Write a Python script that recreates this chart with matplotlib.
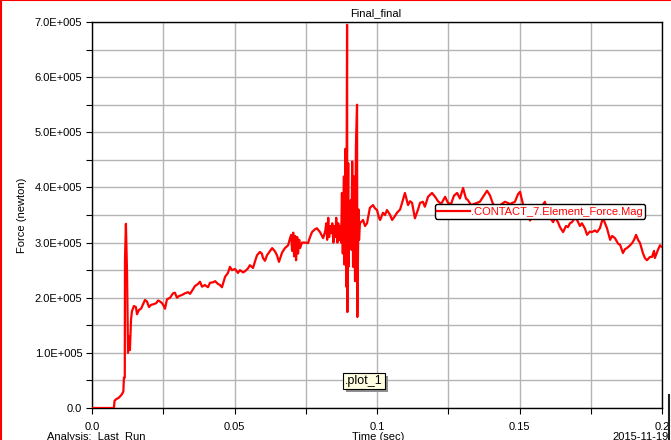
import numpy as np
import matplotlib
matplotlib.use("Agg")
import matplotlib.pyplot as plt
import matplotlib.patheffects as pe
from matplotlib.lines import Line2D

plt.rcParams['font.family'] = ['Liberation Sans', 'DejaVu Sans']

# Time (sec) and force (x 1e5 newton)
time = [
    0.0, 0.0077, 0.0079, 0.0085, 0.0095, 0.0105, 0.0110, 0.0112, 0.0115,
    0.01158, 0.0119, 0.0123, 0.01263, 0.0130, 0.0133, 0.0137, 0.0140, 0.0147,
    0.0154, 0.0158, 0.0165, 0.0172, 0.0179, 0.0186, 0.0193, 0.0200, 0.0207,
    0.0214, 0.0225, 0.0232, 0.0239, 0.0246, 0.0253, 0.0256, 0.0263, 0.0274,
    0.0284, 0.0291, 0.0298, 0.0305, 0.0316, 0.0326, 0.0337, 0.0344, 0.0354,
    0.0361, 0.0372, 0.0379, 0.0386, 0.0396, 0.0407, 0.0414, 0.0425, 0.0432,
    0.0442, 0.0449, 0.0456, 0.0467, 0.0477, 0.0484, 0.0491, 0.0502, 0.0512,
    0.0519, 0.0530, 0.0537, 0.0547, 0.0554, 0.0565, 0.0572, 0.0579, 0.0589,
    0.0596, 0.0600, 0.0607, 0.0614, 0.0625, 0.0632, 0.0642, 0.0649, 0.0656,
    0.0667, 0.0677, 0.0688, 0.0695,
    0.0699, 0.0702, 0.0706, 0.0709, 0.0713, 0.0716, 0.0720, 0.0723, 0.0727,
    0.0730, 0.0737,
    0.0747, 0.0758, 0.0765, 0.0772, 0.0782, 0.0789, 0.0800, 0.0811, 0.0818,
    0.0822, 0.0825, 0.0829, 0.0832, 0.0836, 0.0840, 0.0843, 0.0847, 0.0850,
    0.0854, 0.0857, 0.0861, 0.0864, 0.0868, 0.0870, 0.0874, 0.0877, 0.0880,
    0.0884, 0.0886, 0.0889, 0.0892, 0.0895, 0.0896, 0.0899, 0.0900, 0.0903,
    0.0905, 0.0908, 0.0910, 0.0913, 0.0916, 0.0919, 0.0923, 0.0926, 0.0930,
    0.0931, 0.0935, 0.0937, 0.0940,
    0.0951, 0.0958, 0.0965, 0.0975, 0.0986, 0.0993, 0.1000, 0.1007, 0.1011,
    0.1021, 0.1028, 0.1035, 0.1046, 0.1053, 0.1063, 0.1070, 0.1081, 0.1088,
    0.1098, 0.1109, 0.1116, 0.1123, 0.1133, 0.1144, 0.1151, 0.1161, 0.1168,
    0.1179, 0.1193, 0.1204, 0.1214, 0.1225, 0.1239, 0.1249, 0.1260, 0.1270,
    0.1281, 0.1291, 0.1302, 0.1312, 0.1319, 0.1330, 0.1340, 0.1351, 0.1361,
    0.1375, 0.1386, 0.1396, 0.1407, 0.1421, 0.1432, 0.1449, 0.1467, 0.1484,
    0.1495, 0.1502, 0.1512, 0.1523, 0.1537, 0.1554, 0.1572, 0.1589, 0.1600,
    0.1607, 0.1618, 0.1625, 0.1635, 0.1642, 0.1653, 0.1663, 0.1670, 0.1677,
    0.1684, 0.1695, 0.1702, 0.1712, 0.1719, 0.1730, 0.1737, 0.1747, 0.1754,
    0.1765, 0.1772, 0.1782, 0.1793, 0.1800, 0.1807, 0.1818, 0.1825, 0.1835,
    0.1846, 0.1853, 0.1863, 0.1870, 0.1877, 0.1888, 0.1895, 0.1902, 0.1909,
    0.1916, 0.1923, 0.1933, 0.1940, 0.1947, 0.1958, 0.1965, 0.1972, 0.1975,
    0.1986, 0.1993, 0.2000,
]
force = [
    0.0, 0.0, 0.13, 0.16, 0.19, 0.25, 0.30, 0.55, 0.55,
    2.70, 3.34, 2.45, 1.00, 1.30, 1.05, 1.60, 1.75, 1.85,
    1.83, 1.70, 1.78, 1.80, 1.88, 1.96, 1.93, 1.83, 1.87,
    1.88, 1.90, 1.95, 1.93, 1.90, 1.84, 1.80, 1.97, 2.00,
    2.08, 2.09, 2.00, 2.03, 2.05, 2.08, 2.10, 2.07, 2.15,
    2.21, 2.25, 2.29, 2.20, 2.23, 2.19, 2.27, 2.28, 2.30,
    2.25, 2.23, 2.19, 2.38, 2.45, 2.56, 2.50, 2.52, 2.45,
    2.50, 2.46, 2.48, 2.53, 2.59, 2.54, 2.66, 2.77, 2.83,
    2.80, 2.72, 2.67, 2.77, 2.85, 2.90, 2.84, 2.77, 2.65,
    2.82, 2.90, 2.95, 3.08,
    3.14, 2.85, 3.18, 2.75, 3.12, 2.68, 3.10, 2.80, 3.05,
    2.90, 3.00,
    3.00, 2.99, 3.10, 3.19, 3.24, 3.26, 3.19, 3.08, 3.20,
    3.35, 3.05, 3.45, 3.10, 3.30, 3.17, 3.35, 3.00, 3.30,
    3.10, 3.45, 3.00, 3.35, 3.05, 3.30, 3.00, 3.90, 2.80,
    4.20, 2.60, 4.70, 2.20, 6.95, 1.74, 4.44, 2.56, 3.65,
    3.05, 3.77, 2.87, 4.47, 2.56, 4.20, 2.30, 4.74, 5.50,
    1.65, 3.60, 3.05, 3.35,
    3.41, 3.30, 3.35, 3.63, 3.68, 3.62, 3.59, 3.45, 3.41,
    3.54, 3.50, 3.59, 3.50, 3.41, 3.48, 3.54, 3.60, 3.72,
    3.90, 3.68, 3.75, 3.72, 3.44, 3.60, 3.72, 3.74, 3.65,
    3.83, 3.90, 3.83, 3.75, 3.70, 3.83, 3.72, 3.70, 3.85,
    3.90, 3.80, 3.99, 3.80, 3.77, 3.68, 3.70, 3.72, 3.74,
    3.85, 3.94, 3.86, 3.70, 3.65, 3.68, 3.74, 3.70, 3.74,
    3.88, 3.92, 3.70, 3.60, 3.40, 3.55, 3.60, 3.74, 3.55,
    3.45, 3.37, 3.45, 3.37, 3.28, 3.19, 3.30, 3.28, 3.35,
    3.37, 3.45, 3.41, 3.30, 3.35, 3.25, 3.14, 3.20, 3.19,
    3.22, 3.19, 3.26, 3.45, 3.35, 3.26, 3.05, 3.12, 3.08,
    2.98, 2.96, 2.81, 2.88, 2.90, 2.95, 2.99, 3.05, 3.14,
    3.05, 2.99, 2.81, 2.72, 2.68, 2.74, 2.74, 2.85, 2.72,
    2.87, 2.95, 2.92,
]

x_ticks = [0.0, 0.05, 0.1, 0.15, 0.2]
x_labels = ['0.0', '0.05', '0.1', '0.15', '0.2']
y_ticks = [0, 1e5, 2e5, 3e5, 4e5, 5e5, 6e5, 7e5]
y_labels = ['0.0', '1.0E+005', '2.0E+005', '3.0E+005', '4.0E+005',
            '5.0E+005', '6.0E+005', '7.0E+005']

W, H = 671, 440
fig = plt.figure(figsize=(W / 100, H / 100), dpi=100)
ax = fig.add_axes([92 / W, 1 - 408 / H, 570 / W, 386 / H])

ax.plot(time, np.array(force) * 1e5, color='red', lw=1.6,
        label='.CONTACT_7.Element_Force.Mag', zorder=3)

ax.set_xlim(0, 0.2)
ax.set_ylim(0, 7e5)
ax.set_xticks(x_ticks)
ax.set_xticklabels(x_labels)
ax.set_yticks(y_ticks)
ax.set_yticklabels(y_labels)
ax.set_xticks(np.arange(0.025, 0.2, 0.05), minor=True)
ax.set_yticks(np.arange(0.5e5, 7e5, 1e5), minor=True)
ax.tick_params(which='both', direction='out', length=4, width=0.8,
               labelsize=8, colors='black', pad=3)
ax.tick_params(axis='x', pad=6)
ax.grid(True, which='both', color='#b4b4b4', lw=1.0, zorder=0)
ax.set_axisbelow(True)
for s in ax.spines.values():
    s.set_linewidth(1.0)
    s.set_color('black')

# title and axis texts
fig.text(376 / W, 1 - 13 / H, 'Final_final', ha='center', va='center', fontsize=8)
fig.text(22 / W, 1 - 215 / H, 'Force (newton)', rotation=90,
         ha='center', va='center', fontsize=8)
fig.text(47 / W, 1 - 432 / H, 'Analysis:  Last_Run', ha='left', va='top', fontsize=8)
fig.text(352 / W, 1 - 432 / H, 'Time (sec)', ha='left', va='top', fontsize=8)
fig.text(612 / W, 1 - 432 / H, '2015-11-19', ha='left', va='top', fontsize=8)

# legend
leg = ax.legend(loc='center', bbox_to_anchor=(540 / W, 1 - 211.5 / H),
                bbox_transform=fig.transFigure, fontsize=8, frameon=True,
                fancybox=True, framealpha=1, edgecolor='black',
                handlelength=3.0, handletextpad=0.1, borderpad=0.2,
                borderaxespad=0)
leg.get_frame().set_linewidth(1.0)
for t in leg.get_texts():
    t.set_color('red')

# .plot_1 tag with a drop shadow
tag = fig.text(364 / W, 1 - 381 / H, '.plot_1', ha='center', va='center',
               fontsize=9,
               bbox=dict(boxstyle='square,pad=0.15', fc='#ffffe1', ec='black', lw=0.8))
tag.get_bbox_patch().set_path_effects([
    pe.SimplePatchShadow(offset=(2, -2), shadow_rgbFace='#909090', alpha=1),
    pe.Normal()])

# window frame bits
fig.add_artist(Line2D([1 / W, 1 / W], [0, 1], color='red', lw=1.5))
fig.add_artist(Line2D([0, 1], [1 - 0.5 / H, 1 - 0.5 / H], color='red', lw=1.5))
fig.add_artist(Line2D([669 / W, 669 / W], [0, 1 - 395 / H], color='#202020', lw=1.5))

fig.savefig('out.png', dpi=100)
